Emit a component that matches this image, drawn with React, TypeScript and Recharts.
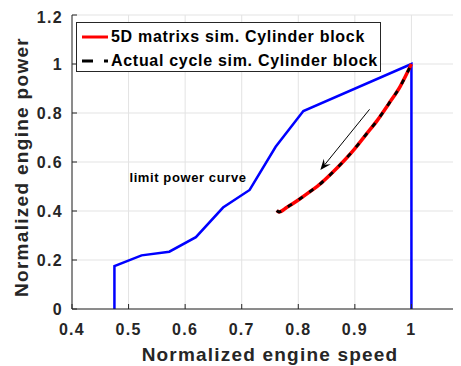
import React from 'react';
import {
    ComposedChart,
    CartesianGrid,
    Line,
    ReferenceLine,
    XAxis,
    YAxis
} from 'recharts';

// axis ticks
const speedTicks = [0.4, 0.5, 0.6, 0.7, 0.8, 0.9, 1];
const powerTicks = [0, 0.2, 0.4, 0.6, 0.8, 1, 1.2];

// limit power curve (closed down to zero at both ends)
const limitSpeed = [0.475, 0.475, 0.523, 0.572, 0.619, 0.667, 0.714, 0.76, 0.809, 1.0, 1.0];
const limitPower = [0, 0.175, 0.219, 0.234, 0.293, 0.414, 0.486, 0.662, 0.808, 1.0, 0];

// cylinder block simulations
const cycleSpeed = [0.762, 0.766, 0.78, 0.8, 0.82, 0.84, 0.86, 0.88, 0.9, 0.92, 0.94, 0.96, 0.98, 1.0];
const matrixPower = [0.402, 0.396, 0.415, 0.445, 0.478, 0.513, 0.556, 0.603, 0.655, 0.713, 0.771, 0.838, 0.908, 1.0];
const actualPower = [0.402, 0.396, 0.415, 0.445, 0.478, 0.513, 0.556, 0.603, 0.655, 0.713, 0.771, 0.838, 0.908, 1.0];

// direction arrow [speed, power]
const arrowFrom = [0.926, 0.815];
const arrowTo = [0.839, 0.567];

const limitData = limitSpeed.map((s, i) => ({ s, p: limitPower[i] }));
const matrixData = cycleSpeed.map((s, i) => ({ s, p: matrixPower[i] }));
const actualData = cycleSpeed.map((s, i) => ({ s, p: actualPower[i] }));

const FONT = '"Liberation Sans", Arial, sans-serif';
const INK = '#262626';

const tickStyle = { fill: INK, fontSize: 16, fontWeight: 700, fontFamily: FONT, letterSpacing: 1.3 };

const ArrowShape = (props: any) => {
    const { x1, y1, x2, y2 } = props;
    const dx = x2 - x1;
    const dy = y2 - y1;
    const len = Math.sqrt(dx * dx + dy * dy) || 1;
    const ux = dx / len;
    const uy = dy / len;
    const nx = -uy;
    const ny = ux;
    const bx = x2 - ux * 11;
    const by = y2 - uy * 11;
    const mx = x2 - ux * 7;
    const my = y2 - uy * 7;
    const head = [
        `${x2},${y2}`,
        `${bx + nx * 4.5},${by + ny * 4.5}`,
        `${mx},${my}`,
        `${bx - nx * 4.5},${by - ny * 4.5}`
    ].join(' ');
    return (
        <g>
            <line x1={x1} y1={y1} x2={mx} y2={my} stroke="#000" strokeWidth={1} />
            <polygon points={head} fill="#000" />
        </g>
    );
};

const LegendBox = () => (
    <div
        style={{
            position: 'absolute',
            left: 68,
            top: 14,
            width: 303,
            height: 48,
            border: `1px solid ${INK}`,
            background: '#fff',
            fontFamily: FONT,
            fontWeight: 700,
            fontSize: 16,
            letterSpacing: 0.7,
            color: '#000'
        }}
    >
        {[
            { name: '5D matrixs sim. Cylinder block', color: '#ff0000', dash: undefined },
            { name: 'Actual cycle sim. Cylinder block', color: '#000000', dash: '11 11' }
        ].map((item, i) => (
            <div
                key={i}
                style={{ position: 'absolute', left: 4, top: 2 + i * 24, height: 24, display: 'flex', alignItems: 'center', whiteSpace: 'nowrap' }}
            >
                <svg width={30} height={24}>
                    <line x1={1} y1={12} x2={27} y2={12} stroke={item.color} strokeWidth={3} strokeDasharray={item.dash} />
                </svg>
                <span>{item.name}</span>
            </div>
        ))}
    </div>
);

export default function App() {
    return (
        <div style={{ position: 'relative', width: 453, height: 358, overflow: 'hidden', background: '#fff' }}>
            <ComposedChart width={460} height={358} margin={{ top: 7, right: 0, left: 14, bottom: 27 }}>
                <CartesianGrid stroke="#e3e3e3" strokeWidth={1} />
                <XAxis
                    type="number"
                    dataKey="s"
                    domain={[0.4, 1.1]}
                    ticks={speedTicks}
                    allowDataOverflow
                    height={30}
                    stroke={INK}
                    tickSize={-5}
                    tickMargin={20}
                    tick={tickStyle}
                    tickFormatter={(v: number) => String(v)}
                    label={{
                        value: 'Normalized engine speed',
                        position: 'bottom',
                        offset: 9,
                        style: { fill: INK, fontSize: 19, fontWeight: 700, fontFamily: FONT, letterSpacing: 1.2 }
                    }}
                />
                <XAxis
                    xAxisId="top"
                    orientation="top"
                    type="number"
                    domain={[0.4, 1.1]}
                    ticks={speedTicks}
                    allowDataOverflow
                    height={0}
                    stroke={INK}
                    tickSize={-5}
                    tick={false}
                />
                <YAxis
                    type="number"
                    domain={[0, 1.2]}
                    ticks={powerTicks}
                    allowDataOverflow
                    width={50}
                    stroke={INK}
                    tickSize={-5}
                    tickMargin={14}
                    tick={tickStyle}
                    tickFormatter={(v: number) => String(v)}
                    label={{
                        content: (p: any) => {
                            const vb = p.viewBox || { x: 22, y: 15, width: 50, height: 294 };
                            const cx = vb.x - 1;
                            const cy = vb.y + vb.height / 2 + 5;
                            return (
                                <text
                                    x={cx}
                                    y={cy}
                                    transform={`rotate(-90 ${cx} ${cy})`}
                                    textAnchor="middle"
                                    dominantBaseline="central"
                                    fill={INK}
                                    fontSize={19}
                                    fontWeight={700}
                                    fontFamily={FONT}
                                    letterSpacing={1.3}
                                >
                                    Normalized engine power
                                </text>
                            );
                        }
                    }}
                />

                <Line
                    data={limitData}
                    dataKey="p"
                    type="linear"
                    stroke="#0000ff"
                    strokeWidth={2.5}
                    dot={false}
                    isAnimationActive={false}
                />
                <Line
                    data={matrixData}
                    dataKey="p"
                    type="monotone"
                    stroke="#ff0000"
                    strokeWidth={3.5}
                    dot={false}
                    isAnimationActive={false}
                />
                <Line
                    data={actualData}
                    dataKey="p"
                    type="monotone"
                    stroke="#000000"
                    strokeWidth={2.8}
                    strokeDasharray="5 8"
                    dot={false}
                    isAnimationActive={false}
                />

                <ReferenceLine
                    segment={[
                        { x: arrowFrom[0], y: arrowFrom[1] },
                        { x: arrowTo[0], y: arrowTo[1] }
                    ]}
                    shape={ArrowShape}
                />
                <ReferenceLine
                    y={0.535}
                    stroke="none"
                    label={{
                        value: 'limit power curve',
                        content: (p: any) => {
                            const vb = p.viewBox || { x: 72, y: 178 };
                            return (
                                <text
                                    x={vb.x + 116}
                                    y={vb.y}
                                    textAnchor="middle"
                                    dominantBaseline="central"
                                    fill="#000"
                                    fontSize={13}
                                    fontWeight={700}
                                    fontFamily={FONT}
                                    letterSpacing={0.6}
                                >
                                    limit power curve
                                </text>
                            );
                        }
                    }}
                />
            </ComposedChart>
            <LegendBox />
        </div>
    );
}
